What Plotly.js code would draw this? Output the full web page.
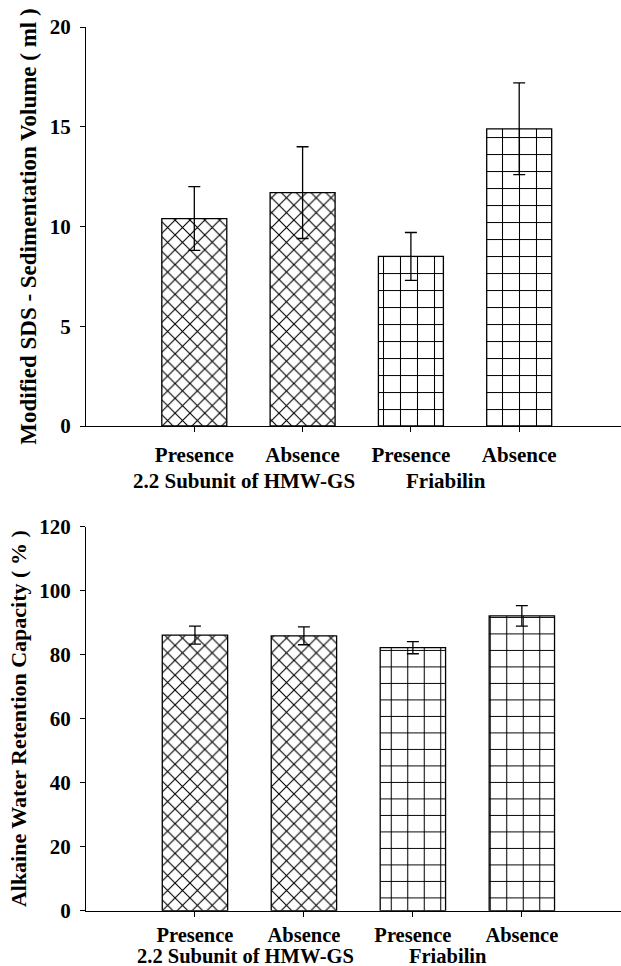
<!DOCTYPE html>
<html>
<head>
<meta charset="utf-8">
<script src="https://cdn.plot.ly/plotly-3.0.1.min.js"></script>
<style>
  html, body { margin: 0; padding: 0; background: #fff; }
  #chart { width: 621px; height: 966px; }
</style>
</head>
<body>
<div id="chart"></div>
<script>
// ---- data ----
const categories = ['Presence', 'Absence', 'Presence', 'Absence'];
const positions = [0, 1, 2, 3];
const groupLabels = ['2.2 Subunit of HMW-GS', 'Friabilin'];
const groupLabelPos = [0.46, 2.32];
const patterns = ['x', 'x', '+', '+'];

const sdsValues = [10.4, 11.7, 8.5, 14.9];
const sdsErrors = [1.6, 2.3, 1.2, 2.3];
const sdsTicks = [0, 5, 10, 15, 20];

const awrcValues = [86.1, 85.9, 82.2, 92.1];
const awrcErrors = [2.8, 2.8, 1.9, 3.2];
const awrcTicks = [0, 20, 40, 60, 80, 100, 120];

const FONT = 'Liberation Serif, Times New Roman, serif';

function barTrace(vals, errs, xa, ya, psizes) {
  return {
    type: 'bar',
    x: positions,
    y: vals,
    xaxis: xa,
    yaxis: ya,
    width: 0.6,
    marker: {
      color: '#ffffff',
      line: { color: '#000000', width: 1.3 },
      pattern: { shape: patterns, fgcolor: '#000000', bgcolor: '#ffffff', size: psizes, solidity: [0.2, 0.2, 0.12, 0.12], fillmode: 'replace' }
    },
    error_y: { type: 'data', array: errs, visible: true, color: '#000000', thickness: 1.3, width: 6 },
    hoverinfo: 'skip',
    showlegend: false
  };
}

const data = [
  barTrace(sdsValues, sdsErrors, 'x', 'y', [10.5, 10.5, 17, 17]),
  barTrace(awrcValues, awrcErrors, 'x2', 'y2', [10.5, 10.5, 16.5, 16.5])
];

function xAxis(range, anchor, standoff, fsize) {
  return {
    domain: [0, 1],
    range: range,
    anchor: anchor,
    tickmode: 'array',
    tickvals: positions,
    ticktext: categories,
    ticks: 'outside',
    ticklen: 5,
    tickwidth: 1,
    tickcolor: '#000',
    showline: true,
    linecolor: '#000',
    linewidth: 1.2,
    showgrid: false,
    zeroline: false,
    ticklabelstandoff: standoff,
    tickfont: { family: FONT, size: fsize, color: '#000', weight: 'bold' },
    fixedrange: true
  };
}

function yAxis(domain, range, ticks, anchor, title, tsize) {
  return {
    domain: domain,
    range: range,
    anchor: anchor,
    tickmode: 'array',
    tickvals: ticks,
    ticks: 'outside',
    ticklen: 5,
    tickwidth: 1,
    tickcolor: '#000',
    showline: true,
    linecolor: '#000',
    linewidth: 1,
    showgrid: false,
    zeroline: false,
    ticklabelstandoff: 5,
    tickfont: { family: FONT, size: 21, color: '#000', weight: 'bold' },
    title: { text: title, font: { family: FONT, size: tsize, color: '#000', weight: 'bold' }, standoff: 6 },
    fixedrange: true
  };
}

const layout = {
  width: 621,
  height: 966,
  margin: { l: 86, r: 0, t: 0, b: 0, pad: 0 },
  paper_bgcolor: '#ffffff',
  plot_bgcolor: '#ffffff',
  xaxis: xAxis([-1, 3.94], 'y', 5, 21),
  yaxis: yAxis([0.559, 0.972], [0, 20], sdsTicks, 'x', 'Modified SDS - Sedimentation Volume ( ml )', 23),
  xaxis2: xAxis([-1, 3.91], 'y2', 0, 20.5),
  yaxis2: yAxis([0.0572, 0.4548], [0, 120], awrcTicks, 'x2', 'Alkaine Water Retention Capacity ( % )', 22),
  annotations: [
    { xref: 'x', yref: 'paper', x: groupLabelPos[0], y: 1 - 481 / 966, text: groupLabels[0], showarrow: false, xanchor: 'center', yanchor: 'middle', font: { family: FONT, size: 21, color: '#000', weight: 'bold' } },
    { xref: 'x', yref: 'paper', x: groupLabelPos[1], y: 1 - 481 / 966, text: groupLabels[1], showarrow: false, xanchor: 'center', yanchor: 'middle', font: { family: FONT, size: 21, color: '#000', weight: 'bold' } },
    { xref: 'x2', yref: 'paper', x: groupLabelPos[0], y: 1 - 955.5 / 966, text: groupLabels[0], showarrow: false, xanchor: 'center', yanchor: 'middle', font: { family: FONT, size: 20.5, color: '#000', weight: 'bold' } },
    { xref: 'x2', yref: 'paper', x: groupLabelPos[1], y: 1 - 955.5 / 966, text: groupLabels[1], showarrow: false, xanchor: 'center', yanchor: 'middle', font: { family: FONT, size: 20.5, color: '#000', weight: 'bold' } }
  ]
};

Plotly.newPlot('chart', data, layout, { displayModeBar: false, staticPlot: true });
</script>
</body>
</html>
